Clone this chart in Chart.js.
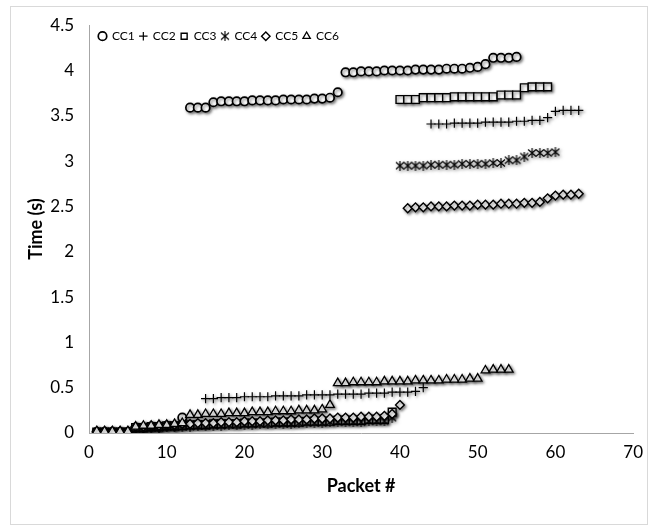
<!DOCTYPE html>
<html>
<head>
<meta charset="utf-8">
<script src="https://cdn.jsdelivr.net/npm/chart.js@4.4.1/dist/chart.umd.min.js"></script>
<style>
  body { margin: 0; background: #fff; }
  canvas { display: block; }
</style>
</head>
<body>
<canvas id="packetChart" width="652" height="531"></canvas>
<script>
// 각 CC의 패킷별 시간 (패킷 번호는 1부터 순서대로)
const cc1Times = [0.01, 0.01, 0.01, 0.01, 0.01, 0.06, 0.06, 0.07, 0.07, 0.08, 0.08, 0.17,
    3.59, 3.59, 3.59,
    3.65, 3.66, 3.66, 3.66, 3.66, 3.67, 3.67, 3.67, 3.67, 3.68, 3.68, 3.68, 3.68, 3.69, 3.69, 3.70,
    3.76,
    3.98, 3.98, 3.99, 3.99, 3.99, 4.00, 4.00, 4.00, 4.00, 4.01, 4.01, 4.01, 4.01, 4.02, 4.02, 4.02, 4.03, 4.04,
    4.07, 4.14, 4.14, 4.14, 4.15];
const cc2Times = [0.01, 0.01, 0.01, 0.01, 0.01,
    0.05, 0.05, 0.06, 0.06, 0.07, 0.07, 0.08, 0.08, 0.09,
    0.38, 0.38, 0.39, 0.39, 0.39, 0.40, 0.40, 0.40, 0.40, 0.41, 0.41, 0.41, 0.41, 0.42, 0.42, 0.42, 0.42,
    0.43, 0.43, 0.43, 0.43, 0.44, 0.44, 0.44, 0.45, 0.45, 0.45, 0.46,
    0.50,
    3.41, 3.41, 3.41, 3.42, 3.42, 3.42, 3.42, 3.43, 3.43, 3.43, 3.43, 3.44, 3.44, 3.45, 3.45,
    3.48, 3.55, 3.56, 3.56, 3.56];
const cc3Times = [0.01, 0.01, 0.01, 0.01, 0.01, 0.06, 0.06, 0.07, 0.07, 0.08, 0.08,
    0.08, 0.09, 0.09, 0.09, 0.10, 0.10, 0.10, 0.10, 0.11, 0.11, 0.11, 0.11, 0.12, 0.12, 0.12, 0.12,
    0.13, 0.13, 0.13, 0.13, 0.14, 0.14, 0.14, 0.14, 0.15, 0.15, 0.15,
    0.23,
    3.68, 3.68, 3.68, 3.70, 3.70, 3.70, 3.70, 3.71, 3.71, 3.71, 3.71, 3.71, 3.71,
    3.73, 3.73, 3.73, 3.81, 3.82, 3.82, 3.82];
const cc4Times = [0.00, 0.00, 0.00, 0.00, 0.00, 0.05, 0.05, 0.06, 0.06, 0.07, 0.07,
    0.07, 0.07, 0.08, 0.08, 0.08, 0.08, 0.09, 0.09, 0.09, 0.09, 0.10, 0.10, 0.10, 0.10, 0.10,
    0.11, 0.11, 0.11, 0.11, 0.12, 0.12, 0.12, 0.12, 0.12, 0.13, 0.13, 0.13,
    0.17,
    2.95, 2.95, 2.95, 2.95, 2.96, 2.96, 2.96, 2.96, 2.97, 2.97, 2.97, 2.97, 2.98, 2.98,
    3.01, 3.01, 3.05, 3.09, 3.09, 3.09, 3.10];
const cc5Times = [0.02, 0.02, 0.02, 0.02, 0.02, 0.07, 0.07, 0.08, 0.08, 0.09, 0.09,
    0.10, 0.10, 0.11, 0.11, 0.11, 0.12, 0.12, 0.12, 0.13, 0.13, 0.13, 0.14, 0.14, 0.14,
    0.15, 0.15, 0.15, 0.16, 0.16, 0.16, 0.17, 0.17, 0.17, 0.18, 0.18, 0.18, 0.19,
    0.21, 0.31,
    2.48, 2.49, 2.49, 2.50, 2.50, 2.50, 2.51, 2.51, 2.51, 2.52, 2.52, 2.52, 2.53, 2.53, 2.53, 2.54, 2.54, 2.55,
    2.59, 2.62, 2.63, 2.63, 2.64];
const cc6Times = [0.02, 0.02, 0.02, 0.02, 0.02, 0.07, 0.08, 0.08, 0.09, 0.09, 0.10, 0.11,
    0.20, 0.20, 0.21, 0.21, 0.21, 0.22, 0.22, 0.22, 0.23, 0.23, 0.23, 0.24, 0.24, 0.24, 0.25, 0.25, 0.25, 0.26,
    0.31,
    0.55, 0.55, 0.56, 0.56, 0.56, 0.56, 0.57, 0.57, 0.57, 0.57, 0.58, 0.58, 0.58, 0.58, 0.59, 0.59, 0.59, 0.60, 0.60,
    0.69, 0.70, 0.70, 0.70];

const seriesNames = ['CC1', 'CC2', 'CC3', 'CC4', 'CC5', 'CC6'];
const xTicks = [0, 10, 20, 30, 40, 50, 60, 70];
const yTicks = [0, 0.5, 1, 1.5, 2, 2.5, 3, 3.5, 4, 4.5];

const FONT = 'Lato, "Open Sans", sans-serif';

// 엑셀 별표 마커 (X + 세로선)
function makeStar() {
    const c = document.createElement('canvas');
    c.width = 10;
    c.height = 10;
    const g = c.getContext('2d');
    g.strokeStyle = '#000';
    g.lineWidth = 1.1;
    g.beginPath();
    g.moveTo(1, 1.5); g.lineTo(9, 8.5);
    g.moveTo(9, 1.5); g.lineTo(1, 8.5);
    g.moveTo(5, 0); g.lineTo(5, 10);
    g.stroke();
    return c;
}

function toPoints(values) {
    return values.map((v, i) => ({x: i + 1, y: v}));
}

const markerStyles = [
    {pointStyle: 'circle', pointRadius: 4.2, pointBorderWidth: 1.7},
    {pointStyle: 'cross', pointRadius: 4.6, pointBorderWidth: 1.2},
    {pointStyle: 'rect', pointRadius: 5.5, pointBorderWidth: 1.4},
    {pointStyle: makeStar(), pointRadius: 5, pointBorderWidth: 1},
    {pointStyle: 'rectRot', pointRadius: 4.4, pointBorderWidth: 1.4},
    {pointStyle: 'triangle', pointRadius: 5, pointBorderWidth: 1.3}
];

const allTimes = [cc1Times, cc2Times, cc3Times, cc4Times, cc5Times, cc6Times];

const datasets = allTimes.map((times, i) => Object.assign({
    label: seriesNames[i],
    data: toPoints(times),
    showLine: false,
    pointBackgroundColor: '#fff',
    pointBorderColor: '#000',
    backgroundColor: '#fff',
    borderColor: '#000',
    order: allTimes.length - i   // 뒤 시리즈가 위에 그려지도록
}, markerStyles[i]));

// 배경, 바깥 테두리, 마커 그림자, 범례 위치
const framePlugin = {
    id: 'frame',
    afterInit(chart) {
        // 범례를 플롯 안쪽에 한 줄로
        chart.legend.isHorizontal = () => true;
    },
    afterLayout(chart) {
        const lg = chart.legend;
        const w = lg.width, h = lg.height;
        lg.left = chart.chartArea.left + 5;
        lg.top = chart.chartArea.top;
        lg.right = lg.left + w;
        lg.bottom = lg.top + h;
    },
    beforeDraw(chart) {
        const ctx = chart.ctx;
        ctx.save();
        ctx.fillStyle = '#fff';
        ctx.fillRect(0, 0, chart.width, chart.height);
        ctx.strokeStyle = '#d9d9d9';
        ctx.lineWidth = 1;
        ctx.strokeRect(10.5, 6.5, 637, 518);
        ctx.restore();
    },
    beforeDatasetsDraw(chart) {
        const ctx = chart.ctx;
        ctx.save();
        ctx.shadowColor = 'rgba(0,0,0,0.5)';
        ctx.shadowBlur = 3;
        ctx.shadowOffsetX = 1.5;
        ctx.shadowOffsetY = 1.5;
    },
    afterDatasetsDraw(chart) {
        chart.ctx.restore();
    }
};

new Chart(document.getElementById('packetChart'), {
    type: 'scatter',
    data: {datasets: datasets},
    plugins: [framePlugin],
    options: {
        responsive: false,
        animation: false,
        layout: {padding: {left: 0, right: 14, top: 25, bottom: 0}},
        plugins: {
            legend: {
                position: 'chartArea',
                align: 'start',
                labels: {
                    usePointStyle: true,
                    boxWidth: 7,
                    boxHeight: 6,
                    padding: 5,
                    color: '#000',
                    font: {family: FONT, size: 12},
                    sort: (a, b) => a.datasetIndex - b.datasetIndex
                }
            },
            tooltip: {enabled: false}
        },
        scales: {
            x: {
                type: 'linear',
                min: xTicks[0],
                max: xTicks[xTicks.length - 1],
                afterBuildTicks: scale => { scale.ticks = xTicks.map(v => ({value: v})); },
                afterFit: scale => { scale.height = 98; },
                grid: {display: false, drawTicks: false},
                border: {display: true, color: '#a6a6a6', width: 1},
                ticks: {color: '#000', padding: 9, font: {family: FONT, size: 17},
                    callback: value => String(value)},
                title: {
                    display: true,
                    text: 'Packet #',
                    color: '#000',
                    font: {family: FONT, size: 18, weight: 'bold'},
                    padding: {top: 34, bottom: 34}
                }
            },
            y: {
                type: 'linear',
                min: yTicks[0],
                max: yTicks[yTicks.length - 1],
                afterBuildTicks: scale => { scale.ticks = yTicks.map(v => ({value: v})); },
                afterFit: scale => { scale.width = 89; },
                grid: {display: false, drawTicks: false},
                border: {display: true, color: '#a6a6a6', width: 1},
                ticks: {color: '#000', padding: 15, font: {family: FONT, size: 17},
                    callback: value => String(value)},
                title: {
                    display: true,
                    text: 'Time (s)',
                    color: '#000',
                    font: {family: FONT, size: 18, weight: 'bold'},
                    padding: {top: 25, bottom: 25}
                }
            }
        }
    }
});
</script>
</body>
</html>
